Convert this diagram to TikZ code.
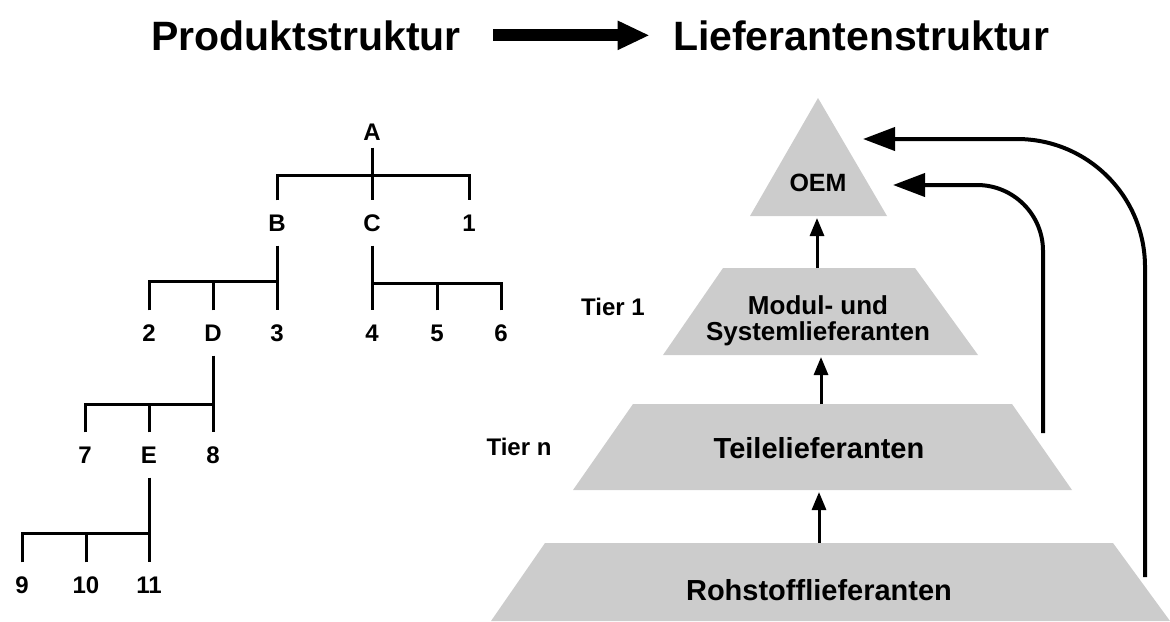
\documentclass[tikz,border=0pt]{standalone}
\usepackage{fontspec}
\setmainfont{Liberation Sans}
\usetikzlibrary{arrows.meta}
\newlength{\du}
\setlength{\du}{0.5pt}

\begin{document}
\begin{tikzpicture}[
  titletext/.style={anchor=base,inner sep=0pt,font=\bfseries\fontsize{20.5}{22}\selectfont},
  treelabel/.style={font=\bfseries\fontsize{12}{13}\selectfont,text height=8.6pt,text depth=0pt,inner xsep=1pt,inner ysep=6.8pt},
  treeline/.style={line width=1.5pt},
  tiertext/.style={font=\bfseries\fontsize{12}{13}\selectfont},
  levelfill/.style={fill=levelgray,draw=none},
  levelarrow/.style={line width=1.5pt,-{Triangle[length=9pt,width=7pt]}},
  backarrow/.style={line width=2pt,-{Triangle[length=16pt,width=11.5pt]}}
]
\pgftransformxscale{1.000000}
\pgftransformyscale{-1.000000}
\definecolor{levelgray}{rgb}{0.800000, 0.800000, 0.800000}
\useasboundingbox (0\du,0\du) rectangle (1170\du,621\du);
% titles
\node[titletext] (prod) at (306\du,50\du){Produktstruktur};
\node[titletext] (lief) at (861\du,50\du){Lieferantenstruktur};
\draw[line width=6pt,-{Triangle[length=16pt,width=13.5pt]},shorten <=16pt,shorten >=11.5pt] (prod) -- (lief);
% product tree
\node[treelabel,inner ysep=3.3pt] (A) at (372\du,132\du){A};
\node[treelabel] (B) at (277\du,223\du){B};
\node[treelabel] (C) at (372\du,223\du){C};
\node[treelabel] (n1) at (469\du,223\du){1};
\node[treelabel] (n2) at (149\du,333\du){2};
\node[treelabel] (D) at (213\du,333\du){D};
\node[treelabel] (n3) at (277\du,333\du){3};
\node[treelabel] (n4) at (372\du,333\du){4};
\node[treelabel] (n5) at (437\du,333\du){5};
\node[treelabel] (n6) at (501\du,333\du){6};
\node[treelabel] (n7) at (85\du,455\du){7};
\node[treelabel] (E) at (149\du,455\du){E};
\node[treelabel] (n8) at (213\du,455\du){8};
\node[treelabel] (n9) at (22\du,585\du){9};
\node[treelabel] (n10) at (86\du,585\du){10};
\node[treelabel] (n11) at (149\du,585\du){11};
\coordinate (barA) at (372\du,175\du);
\coordinate (barB) at (277\du,281\du);
\coordinate (barC) at (372\du,283\du);
\coordinate (barD) at (213\du,404\du);
\coordinate (barE) at (149\du,533\du);
\draw[treeline] (A) -- (C);
\draw[treeline] (B) |- (barA) -| (n1);
\draw[treeline] (B) -- (n3);
\draw[treeline] (n2) |- (barB);
\draw[treeline] (D) -- (D |- barB);
\draw[treeline] (C) -- (n4);
\draw[treeline] (n6) |- (barC);
\draw[treeline] (n5) -- (n5 |- barC);
\draw[treeline] (D) -- (n8);
\draw[treeline] (n7) |- (barD);
\draw[treeline] (E) -- (E |- barD);
\draw[treeline] (E) -- (n11);
\draw[treeline] (n9) |- (barE);
\draw[treeline] (n10) -- (n10 |- barE);
% supplier pyramid
\fill[levelfill] (818\du,98\du) -- (887\du,216\du) -- (750\du,216\du) -- cycle;
\fill[levelfill] (723\du,268\du) -- (915\du,268\du) -- (978\du,355\du) -- (663\du,355\du) -- cycle;
\fill[levelfill] (633\du,404\du) -- (1012\du,404\du) -- (1072\du,490\du) -- (573\du,490\du) -- cycle;
\fill[levelfill] (545\du,543\du) -- (1113\du,543\du) -- (1170\du,621\du) -- (491\du,621\du) -- cycle;
\node[font=\bfseries\fontsize{12.5}{14}\selectfont] (oem) at (818\du,183\du){OEM};
\node[font=\bfseries\fontsize{13}{13}\selectfont,align=center] (modul) at (818\du,321\du){Modul- und\\Systemlieferanten};
\node[font=\bfseries\fontsize{14.5}{16}\selectfont] (teile) at (819\du,448\du){Teilelieferanten};
\node[font=\bfseries\fontsize{14.5}{16}\selectfont] (rohst) at (819\du,590\du){Rohstofflieferanten};
\node[tiertext] (tier1) at (613\du,307\du){Tier 1};
\node[tiertext] (tiern) at (519\du,447\du){Tier n};
\coordinate (oemB) at (817\du,218\du);
\coordinate (modT) at (817\du,268\du);
\coordinate (modB) at (821\du,357\du);
\coordinate (teiT) at (821\du,404\du);
\coordinate (teiB) at (819\du,492\du);
\coordinate (rohT) at (819\du,543\du);
\draw[levelarrow] (modT) -- (oemB);
\draw[levelarrow] (teiT) -- (modB);
\draw[levelarrow] (rohT) -- (teiB);
\coordinate (teiR) at (1043\du,433\du);
\coordinate (oemR) at (893\du,185\du);
\coordinate (rohR) at (1145\du,577\du);
\coordinate (oemT) at (863\du,139\du);
\draw[backarrow,rounded corners=33pt] (teiR) |- (oemR);
\draw[backarrow,rounded corners=64pt] (rohR) |- (oemT);
\end{tikzpicture}
\end{document}
